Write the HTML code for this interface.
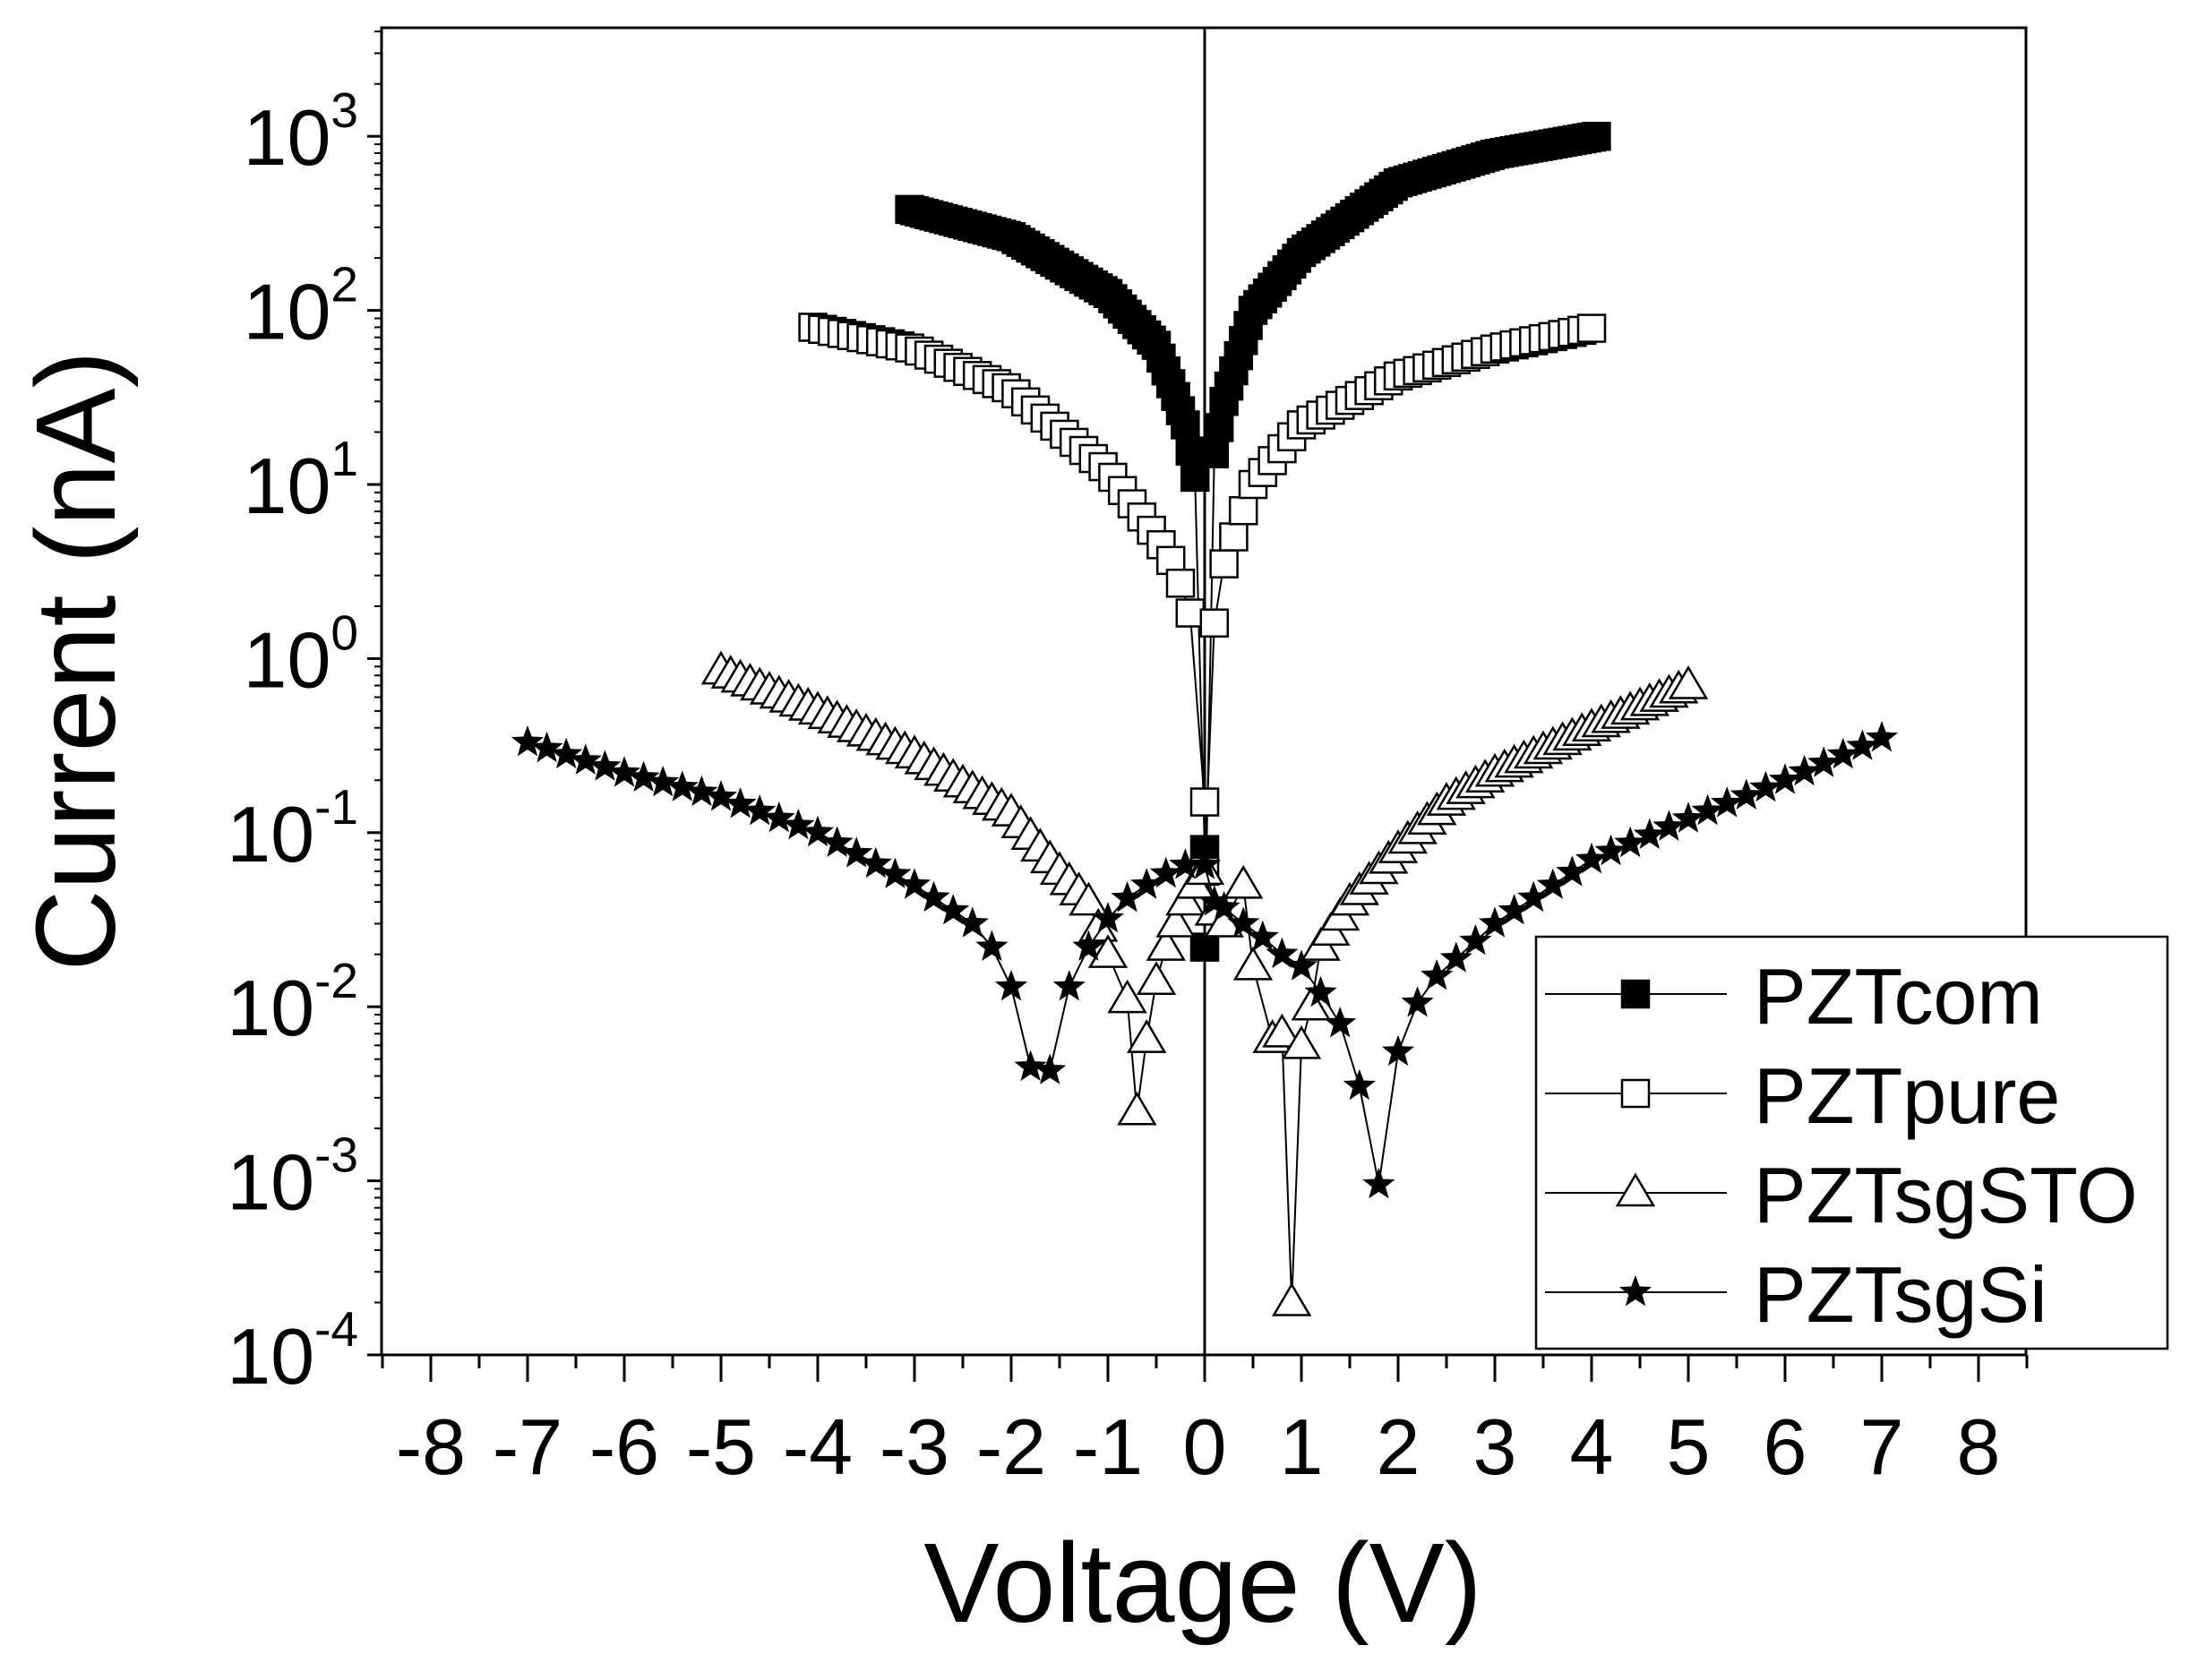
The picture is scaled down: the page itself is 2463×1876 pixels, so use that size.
<!DOCTYPE html>
<html><head><meta charset="utf-8"><style>
html,body{margin:0;padding:0;background:#fff;}
svg{display:block;}
text{font-family:"Liberation Sans",sans-serif;fill:#000;}
</style></head><body>
<svg id="s" xmlns="http://www.w3.org/2000/svg" width="2463" height="1876" viewBox="0 0 2463 1876"></svg>
<script>
const S=document.getElementById('s');
const L=426,R=2262,T=31,B=1513,X0=1345,PX=108,DEC=194.4;
const xf=v=>X0+v*PX, yf=l=>B-(l+4)*DEC;
let h='';
// frame
h+=`<rect x="${L}" y="${T}" width="${R-L}" height="${B-T}" fill="none" stroke="#000" stroke-width="3"/>`;
h+=`<line x1="${X0}" y1="${T}" x2="${X0}" y2="${B}" stroke="#000" stroke-width="3"/>`;
// x ticks
for(let v=-8.5;v<=8.51;v+=0.5){const x=xf(v);const maj=Math.abs(v-Math.round(v))<1e-6;
h+=`<line x1="${x}" y1="${B}" x2="${x}" y2="${B+(maj?30:15)}" stroke="#000" stroke-width="3"/>`;
if(maj)h+=`<text x="${x}" y="${B+133}" font-size="88" text-anchor="middle">${v}</text>`;}
// y ticks
for(let d=-4;d<=3;d++){const y=yf(d);
h+=`<line x1="${L-16}" y1="${y}" x2="${L}" y2="${y}" stroke="#000" stroke-width="3"/>`;
h+=`<text x="${L-26}" y="${y+32}" font-size="88" text-anchor="end">10<tspan font-size="55" dy="-42">${d}</tspan></text>`;
for(let m=2;m<=9;m++){const yl=yf(d+Math.log10(m)); if(yl<T)break;
h+=`<line x1="${L-8}" y1="${yl}" x2="${L}" y2="${yl}" stroke="#000" stroke-width="2"/>`;}}
// titles
h+=`<text x="1343" y="1811" font-size="126" text-anchor="middle">Voltage (V)</text>`;
h+=`<text transform="translate(128,738) rotate(-90)" font-size="126" text-anchor="middle">Current (nA)</text>`;
function interp(cp,v){for(let i=0;i<cp.length-1;i++){const a=cp[i],b=cp[i+1];if(v>=a[0]-1e-9&&v<=b[0]+1e-9){return a[1]+(b[1]-a[1])*(v-a[0])/(b[0]-a[0]);}}return null;}
function gen(segs,step,extra){let pts=[];for(const cp of segs){for(let v=cp[0][0];v<=cp[cp.length-1][0]+1e-9;v+=step)pts.push([v,interp(cp,v)]);}
if(extra)pts=pts.concat(extra);pts.sort((a,b)=>a[0]-b[0]);return pts;}
const lg=x=>Math.log10(x);
function P(arr){return arr.map(p=>[p[0],lg(p[1])]);}
const com=gen([P([[-3.05,380],[-2,265],[-1,125],[-0.5,63],[-0.3,32],[-0.2,22],[-0.1,11]]),P([[0.1,15],[0.2,30],[0.3,45],[0.5,100],[1,215],[2,540],[3,790],[4.05,1000]])],0.05,P([[0,0.08],[0,0.022]]));
const pure=gen([P([[-4.05,80],[-3,60],[-2,35],[-1,12],[-0.5,5],[-0.3,3.3],[-0.1,1.5]]),P([[0.1,1.6],[0.2,3.5],[0.3,5],[0.5,10],[1,22],[2,42],[3,60],[4.05,80]])],0.1,P([[0,0.15],[0,0.06]]));
const sto=gen([P([[-5,0.85],[-4,0.5],[-3,0.28],[-2,0.13],[-1.5,0.06],[-1.2,0.04],[-1,0.02]]),P([[1.2,0.022],[1.5,0.04],[2,0.08],[2.5,0.15],[3,0.22],[4,0.4],[5,0.7]])],0.1,
P([[-0.8,0.011],[-0.7,0.0025],[-0.6,0.0065],[-0.5,0.014],[-0.4,0.022],[-0.3,0.03],[-0.2,0.04],[-0.1,0.05],[0,0.06],[0.1,0.035],[0.2,0.03],[0.4,0.05],[0.5,0.017],[0.7,0.0065],[0.8,0.007],[0.9,0.0002],[1.0,0.006],[1.1,0.01]]));
const si=gen([P([[-7,0.33],[-6,0.22],[-5,0.16],[-4,0.1],[-3,0.05],[-2.4,0.03],[-2.2,0.022]]),P([[2.4,0.015],[3,0.03],[4,0.07],[5,0.12],[6,0.2],[7,0.35]])],0.2,
P([[-2,0.013],[-1.8,0.0045],[-1.6,0.0043],[-1.4,0.013],[-1.2,0.022],[-1,0.032],[-0.8,0.042],[-0.6,0.05],[-0.4,0.058],[-0.2,0.065],[0,0.065],[0.1,0.04],[0.2,0.037],[0.4,0.03],[0.6,0.025],[0.8,0.02],[1,0.017],[1.2,0.012],[1.4,0.008],[1.6,0.0035],[1.8,0.00095],[2,0.0055],[2.2,0.0105]]));
function line(pts){return `<polyline fill="none" stroke="#000" stroke-width="2" points="${pts.map(p=>xf(p[0]).toFixed(1)+','+yf(p[1]).toFixed(1)).join(' ')}"/>`;}
function sq(x,y,f){return `<rect x="${x-15}" y="${y-15}" width="30" height="30" fill="${f}" stroke="#000" stroke-width="2.5"/>`;}
function tri(x,y){return `<polygon points="${x},${y-20} ${x+20},${y+14} ${x-20},${y+14}" fill="#fff" stroke="#000" stroke-width="2.5"/>`;}
function star(x,y){let p=[];for(let i=0;i<10;i++){const r=i%2?8:19,a=-Math.PI/2+i*Math.PI/5;p.push((x+r*Math.cos(a)).toFixed(1)+','+(y+r*Math.sin(a)).toFixed(1));}return `<polygon points="${p.join(' ')}" fill="#000"/>`;}
const series=[[com,(x,y)=>sq(x,y,'#000')],[pure,(x,y)=>sq(x,y,'#fff')],[sto,tri],[si,star]];
for(const [pts,m] of series){h+=line(pts);for(const p of pts)h+=m(xf(p[0]),yf(p[1]));}
// legend
h+=`<rect x="1715" y="1046" width="705" height="460" fill="#fff" stroke="#000" stroke-width="2.5"/>`;
const names=['PZTcom','PZTpure','PZTsgSTO','PZTsgSi'],ys=[1110,1221,1332,1443];
for(let i=0;i<4;i++){const y=ys[i];h+=`<line x1="1725" y1="${y}" x2="1928" y2="${y}" stroke="#000" stroke-width="2"/>`;
h+=series[i][1](1826,y);h+=`<text x="1958" y="${y+33}" font-size="88">${names[i]}</text>`;}
S.innerHTML=h;
</script>
</body></html>
